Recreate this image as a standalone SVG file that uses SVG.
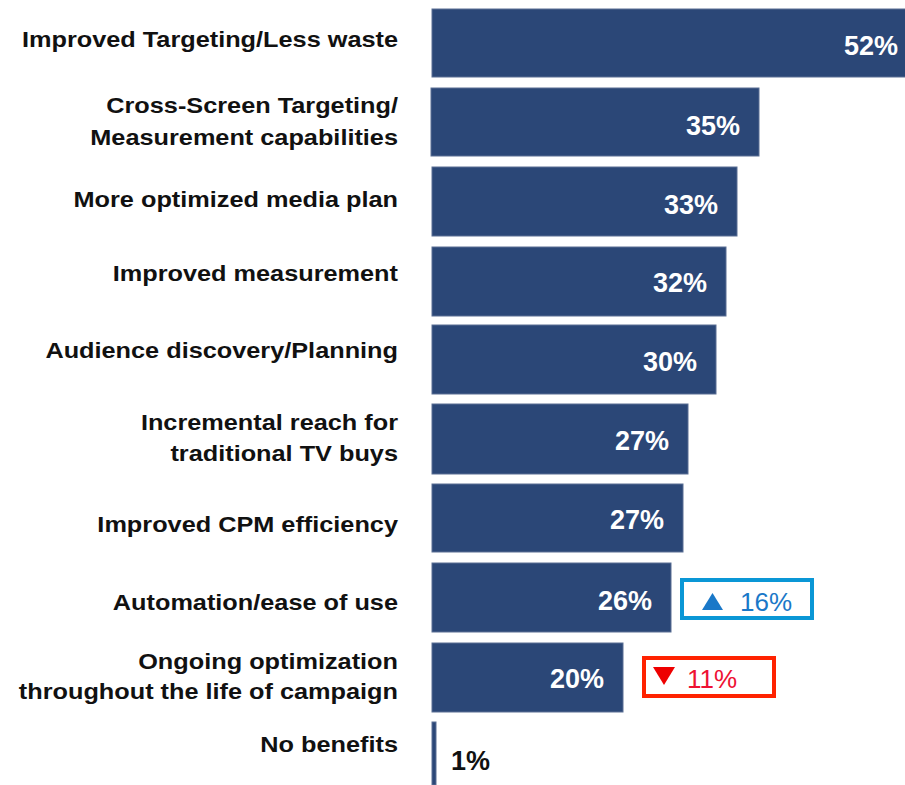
<svg xmlns="http://www.w3.org/2000/svg" width="905" height="785" viewBox="0 0 905 785">
<style>
.bar{fill:#2b4777;stroke:#5a6f94;stroke-width:1}
.lbl{font-family:"Liberation Sans",Arial,sans-serif;font-weight:bold;font-size:22px;fill:#111;text-anchor:end}
.val{font-family:"Liberation Sans",Arial,sans-serif;font-weight:bold;font-size:27px;fill:#fff;text-anchor:end}
.chg{font-family:"Liberation Sans",Arial,sans-serif;font-size:26px}
</style>
<rect width="905" height="785" fill="#fff"/>
<g id="labels" transform="matrix(1.15 0 0 1 -59.7 0)">
<g id="row1-label"><text class="lbl" x="398" y="47">Improved Targeting/Less waste</text></g>
<g id="row2-label"><text class="lbl" x="398" y="113">Cross-Screen Targeting/</text><text class="lbl" x="398" y="145">Measurement capabilities</text></g>
<g id="row3-label"><text class="lbl" x="398" y="207">More optimized media plan</text></g>
<g id="row4-label"><text class="lbl" x="398" y="281">Improved measurement</text></g>
<g id="row5-label"><text class="lbl" x="398" y="358">Audience discovery/Planning</text></g>
<g id="row6-label"><text class="lbl" x="398" y="430">Incremental reach for</text><text class="lbl" x="398" y="461">traditional TV buys</text></g>
<g id="row7-label"><text class="lbl" x="398" y="532">Improved CPM efficiency</text></g>
<g id="row8-label"><text class="lbl" x="398" y="610">Automation/ease of use</text></g>
<g id="row9-label"><text class="lbl" x="398" y="669">Ongoing optimization</text><text class="lbl" x="398" y="699">throughout the life of campaign</text></g>
<g id="row10-label"><text class="lbl" x="398" y="752">No benefits</text></g>
</g>
<g id="row1"><rect class="bar" x="432" y="9" width="475" height="68"/><text class="val" x="898" y="55">52%</text></g>
<g id="row2"><rect class="bar" x="431" y="88" width="328" height="68"/><text class="val" x="740" y="135">35%</text></g>
<g id="row3"><rect class="bar" x="432" y="167" width="305" height="69"/><text class="val" x="718" y="214">33%</text></g>
<g id="row4"><rect class="bar" x="432" y="247" width="294" height="69"/><text class="val" x="707" y="292">32%</text></g>
<g id="row5"><rect class="bar" x="432" y="325" width="284" height="69"/><text class="val" x="697" y="371">30%</text></g>
<g id="row6"><rect class="bar" x="432" y="404" width="256" height="70"/><text class="val" x="669" y="450">27%</text></g>
<g id="row7"><rect class="bar" x="432" y="484" width="251" height="68"/><text class="val" x="664" y="529">27%</text></g>
<g id="row8"><rect class="bar" x="432" y="563" width="239" height="69"/><text class="val" x="652" y="610">26%</text></g>
<g id="row9"><rect class="bar" x="432" y="643" width="191" height="69"/><text class="val" x="604" y="688">20%</text></g>
<g id="row10"><rect class="bar" x="432" y="722" width="4" height="63"/><text class="val" x="490" y="770" style="fill:#111">1%</text></g>
<g id="badge-up"><rect x="682" y="580" width="130" height="38" fill="#fff" stroke="#0a97d6" stroke-width="4"/><polygon points="702,610 712.5,593 723,610" fill="#1a78c8"/><text class="chg" x="740" y="611" fill="#1a78c8">16%</text></g>
<g id="badge-down"><rect x="644" y="658" width="130" height="38" fill="#fff" stroke="#ff2200" stroke-width="4"/><polygon points="653,667 675,667 664,685" fill="#ee0000"/><text class="chg" x="687" y="688" fill="#ee1133">11%</text></g>
<g id="connectors"></g>
</svg>
